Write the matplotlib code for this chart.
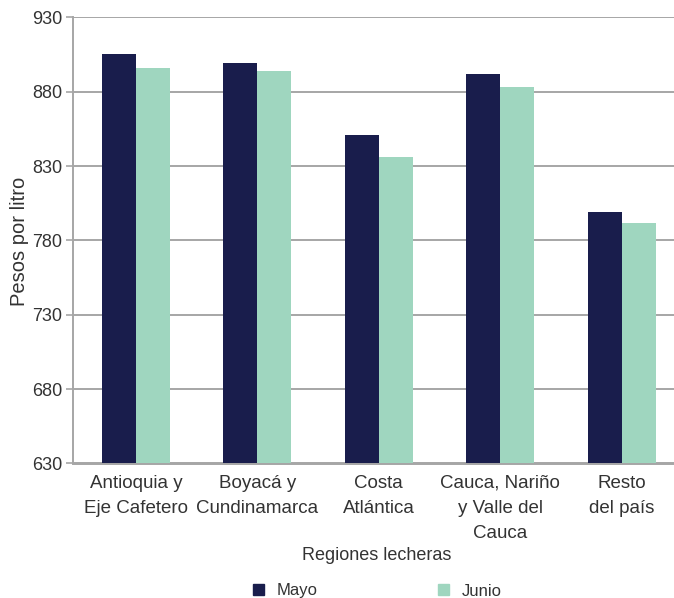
import matplotlib
matplotlib.use("Agg")
import matplotlib.pyplot as plt
import numpy as np
from matplotlib.patches import Patch

regions = [
    "Antioquia y\nEje Cafetero",
    "Boyacá y\nCundinamarca",
    "Costa\nAtlántica",
    "Cauca, Nariño\ny Valle del\nCauca",
    "Resto\ndel país",
]
mayo = [905, 899, 851, 892, 799]
junio = [896, 894, 836, 883, 792]
y_ticks = [630, 680, 730, 780, 830, 880, 930]

navy = "#191d4c"
mint = "#9fd6bf"
grid_grey = "#a6a6a6"
text_col = "#333333"

plt.rcParams["font.family"] = ["Liberation Sans", "DejaVu Sans"]

W, H = 674, 598
fig = plt.figure(figsize=(W / 100, H / 100), dpi=100)
left, right, top, bottom = 73, 674, 17.3, 463.5
ax = fig.add_axes([left / W, 1 - bottom / H, (right - left) / W, (bottom - top) / H])

x = np.arange(len(regions))
bw = 0.28
ax.bar(x - bw / 2, np.array(mayo) - 630, bw, bottom=630, color=navy, zorder=3)
ax.bar(x + bw / 2, np.array(junio) - 630, bw, bottom=630, color=mint, zorder=3)

ax.set_xlim(-0.519, 4.432)
ax.set_ylim(630, 930)
ax.set_yticks(y_ticks)
ax.set_yticklabels([str(v) for v in y_ticks], fontsize=13, color=text_col,
                   family=["Liberation Sans Narrow", "Liberation Sans"])
ax.set_xticks(x)
ax.set_xticklabels(regions, fontsize=13.5, color=text_col, linespacing=1.62)
ax.tick_params(axis="x", length=0, pad=8)
ax.tick_params(axis="y", length=5, color=grid_grey, width=1.2, pad=3)

ax.yaxis.grid(True, color=grid_grey, linewidth=1.4, zorder=0)
ax.set_axisbelow(True)
for side in ("top", "right"):
    ax.spines[side].set_visible(False)
for side in ("left", "bottom"):
    ax.spines[side].set_color(grid_grey)
    ax.spines[side].set_linewidth(1.4)

fig.text(20 / W, 1 - 241 / H, "Pesos por litro", rotation=90, fontsize=14.5,
         color=text_col, ha="center", va="center")
fig.text(377 / W, 1 - 556 / H, "Regiones lecheras", fontsize=13,
         color=text_col, ha="center", va="center")

handles = [Patch(color=navy, label="Mayo"), Patch(color=mint, label="Junio")]
fig.legend(handles=handles, loc="center", bbox_to_anchor=(377.5 / W, 1 - 591 / H),
           ncol=2, frameon=False, fontsize=12, handlelength=0.65, handleheight=0.65,
           handletextpad=0.8, columnspacing=7.2, borderpad=0, labelcolor=text_col)

fig.savefig("out.png", dpi=100)
